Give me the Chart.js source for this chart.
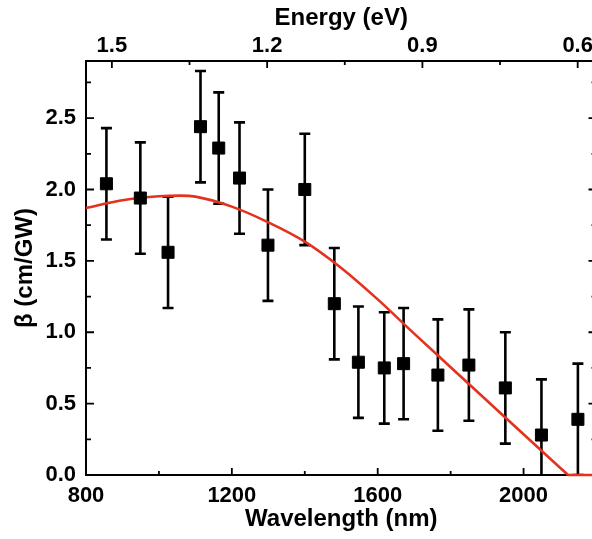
<!DOCTYPE html>
<html>
<head>
<meta charset="utf-8">
<script src="https://cdn.jsdelivr.net/npm/chart.js@4.4.1/dist/chart.umd.min.js"></script>
<style>
  body { margin: 0; background: #fff; }
  #wrap { width: 592px; height: 539px; overflow: hidden; }
</style>
</head>
<body>
<div id="wrap"><canvas id="beta" width="606" height="539"></canvas></div>
<script>
const wavelength = [856, 949, 1025, 1114, 1164, 1221, 1299, 1400, 1481, 1547, 1618, 1671, 1765, 1850, 1950, 2049, 2149];
const beta = [2.04, 1.94, 1.56, 2.44, 2.29, 2.08, 1.61, 2.00, 1.20, 0.79, 0.75, 0.78, 0.70, 0.77, 0.61, 0.28, 0.39];
const betaErr = [0.39, 0.39, 0.39, 0.39, 0.39, 0.39, 0.39, 0.39, 0.39, 0.39, 0.39, 0.39, 0.39, 0.39, 0.39, 0.39, 0.39];

// red theory curve, then its flat tail on the axis
const fitWavelength = [800, 900, 1000, 1060, 1100, 1200, 1300, 1400, 1500, 1600, 1700, 1800, 1900, 2000, 2122];
const fitBeta = [1.87, 1.925, 1.953, 1.957, 1.95, 1.88, 1.77, 1.635, 1.45, 1.23, 0.99, 0.755, 0.52, 0.285, 0];
const tailWavelength = [2122, 2200];
const tailBeta = [0, 0];

// labelled ticks
const xLabels = [800, 1200, 1600, 2000];
const energyLabels = [1.5, 1.2, 0.9, 0.6];
const yLabels = [0, 0.5, 1.0, 1.5, 2.0, 2.5];

const FONT = "'Liberation Sans', Arial, sans-serif";
Chart.defaults.font.family = FONT;
Chart.defaults.color = '#000';

function hasLabel(list, v) {
    return list.some(l => Math.abs(l - v) < 1e-6);
}

const framePlugin = {
    id: 'frame',
    beforeDatasetsDraw(chart) {
        const ctx = chart.ctx;
        const a = chart.chartArea;
        const xs = chart.scales.x, ys = chart.scales.y, es = chart.scales.x2;
        ctx.save();
        ctx.strokeStyle = '#000';

        // error bars
        ctx.save();
        ctx.beginPath();
        ctx.rect(a.left, a.top, a.right - a.left, a.bottom - a.top);
        ctx.clip();
        ctx.lineWidth = 2.6;
        for (let i = 0; i < wavelength.length; i++) {
            const px = xs.getPixelForValue(wavelength[i]);
            const top = ys.getPixelForValue(beta[i] + betaErr[i]);
            const bot = ys.getPixelForValue(beta[i] - betaErr[i]);
            ctx.beginPath();
            ctx.moveTo(px, top); ctx.lineTo(px, bot);
            ctx.moveTo(px - 5.5, top); ctx.lineTo(px + 5.5, top);
            ctx.moveTo(px - 5.5, bot); ctx.lineTo(px + 5.5, bot);
            ctx.stroke();
        }
        ctx.restore();

        // box
        ctx.lineWidth = 2;
        ctx.strokeRect(a.left, a.top, a.right - a.left, a.bottom - a.top);

        // inward tick marks
        ctx.lineWidth = 1.8;
        ctx.beginPath();
        xs.ticks.forEach(t => {
            const p = xs.getPixelForValue(t.value);
            const len = hasLabel(xLabels, t.value) ? 7 : 4;
            ctx.moveTo(p, a.bottom); ctx.lineTo(p, a.bottom - len);
        });
        es.ticks.forEach(t => {
            const p = es.getPixelForValue(t.value);
            const len = hasLabel(energyLabels, t.value) ? 7 : 4;
            ctx.moveTo(p, a.top); ctx.lineTo(p, a.top + len);
        });
        ys.ticks.forEach(t => {
            const p = ys.getPixelForValue(t.value);
            const len = hasLabel(yLabels, t.value) ? 8 : 5;
            ctx.moveTo(a.left, p); ctx.lineTo(a.left + len, p);
            ctx.moveTo(a.right, p); ctx.lineTo(a.right - len, p);
        });
        ctx.stroke();
        ctx.restore();
    }
};

const tickFont = { family: FONT, size: 22, weight: 'bold' };
const titleFont = { family: FONT, size: 24, weight: 'bold' };
const red = '#e5321f';

new Chart(document.getElementById('beta'), {
    type: 'scatter',
    data: {
        datasets: [{
            label: 'beta',
            data: wavelength.map((w, i) => ({ x: w, y: beta[i] })),
            pointStyle: 'rect',
            pointRadius: 8.5,
            backgroundColor: '#000',
            borderColor: '#000',
            borderWidth: 1,
            order: 0
        }, {
            type: 'line',
            label: 'fit',
            data: fitWavelength.map((w, i) => ({ x: w, y: fitBeta[i] })),
            borderColor: red,
            borderWidth: 2.6,
            pointRadius: 0,
            cubicInterpolationMode: 'monotone',
            clip: 4,
            order: 1
        }, {
            type: 'line',
            label: 'tail',
            data: tailWavelength.map((w, i) => ({ x: w, y: tailBeta[i] })),
            borderColor: red,
            borderWidth: 2.6,
            pointRadius: 0,
            clip: 4,
            order: 1
        }]
    },
    options: {
        responsive: false,
        animation: false,
        devicePixelRatio: 1,
        layout: { padding: { right: 0 } },
        plugins: { legend: { display: false }, tooltip: { enabled: false } },
        scales: {
            x: {
                type: 'linear',
                position: 'bottom',
                min: 800,
                max: 2200,
                grid: { display: false, drawTicks: false },
                border: { display: false },
                ticks: {
                    stepSize: 200,
                    autoSkip: false,
                    maxRotation: 0,
                    padding: 8,
                    font: tickFont,
                    color: '#000',
                    callback: v => hasLabel(xLabels, v) ? String(v) : ''
                },
                title: { display: true, text: 'Wavelength (nm)', font: titleFont, color: '#000', padding: { top: 0, bottom: 5 } },
                afterFit: s => { s.height = 64; s.paddingLeft = 0; s.paddingRight = 0; }
            },
            x2: {
                type: 'linear',
                position: 'top',
                reverse: true,
                min: 1240 / 2200,
                max: 1240 / 800,
                grid: { display: false, drawTicks: false },
                border: { display: false },
                ticks: {
                    stepSize: 0.15,
                    includeBounds: false,
                    autoSkip: false,
                    maxRotation: 0,
                    padding: 2,
                    font: tickFont,
                    color: '#000',
                    callback: v => hasLabel(energyLabels, v) ? v.toFixed(1) : ''
                },
                title: { display: true, text: 'Energy (eV)', font: titleFont, color: '#000', padding: { top: 4, bottom: 0 } },
                afterFit: s => { s.height = 61; s.paddingLeft = 0; s.paddingRight = 0; }
            },
            y: {
                type: 'linear',
                min: 0,
                max: 2.9,
                grid: { display: false, drawTicks: false },
                border: { display: false },
                ticks: {
                    stepSize: 0.25,
                    includeBounds: false,
                    autoSkip: false,
                    padding: 10,
                    font: tickFont,
                    color: '#000',
                    callback: v => hasLabel(yLabels, v) ? v.toFixed(1) : ''
                },
                title: { display: true, text: 'β (cm/GW)', font: titleFont, color: '#000', padding: { top: 11, bottom: 0 } },
                afterFit: s => { s.width = 86; s.paddingTop = 0; s.paddingBottom = 0; }
            }
        }
    },
    plugins: [framePlugin]
});
</script>
</body>
</html>
